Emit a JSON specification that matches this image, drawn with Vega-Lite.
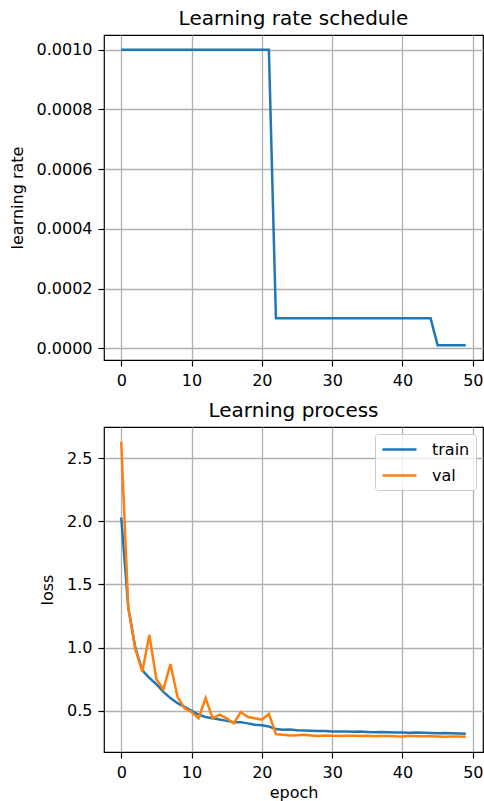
{
  "$schema": "https://vega.github.io/schema/vega-lite/v6.json",
  "background": "white",
  "padding": {"left": 8, "top": 8, "right": 0, "bottom": 4},
  "bounds": "flush",
  "spacing": 67,
  "resolve": {"legend": {"color": "independent"}, "scale": {"color": "independent"}},
  "config": {
    "font": "DejaVu Sans",
    "view": {"stroke": "#000000", "strokeWidth": 1.2},
    "axis": {
      "domain": false,
      "grid": true,
      "gridColor": "#b0b0b0",
      "gridWidth": 1.3,
      "tickColor": "#000000",
      "tickSize": 6,
      "tickWidth": 1.2,
      "labelFont": "DejaVu Sans",
      "labelFontSize": 16,
      "labelColor": "#000000",
      "labelPadding": 6,
      "labelFlush": false,
      "labelOverlap": false,
      "titleFont": "DejaVu Sans",
      "titleFontSize": 16,
      "titleFontWeight": "normal",
      "titleColor": "#000000"
    },
    "axisY": {"titlePadding": 11},
    "axisX": {"titlePadding": 4},
    "title": {"font": "DejaVu Sans", "fontSize": 20, "fontWeight": "normal", "color": "#000000", "offset": 6},
    "legend": {
      "symbolType": "M-1,0H3.25",
      "symbolSize": 256,
      "symbolStrokeWidth": 2.5,
      "labelFont": "DejaVu Sans",
      "labelFontSize": 16,
      "labelColor": "#000000",
      "labelOffset": 32,
      "padding": 6,
      "rowPadding": 8,
      "offset": 7,
      "strokeColor": "#cccccc",
      "fillColor": "rgba(255,255,255,0.8)",
      "cornerRadius": 3
    }
  },
  "datasets": {
    "lr": [
      {"epoch": 0, "lr": 0.001}, {"epoch": 1, "lr": 0.001}, {"epoch": 2, "lr": 0.001}, {"epoch": 3, "lr": 0.001},
      {"epoch": 4, "lr": 0.001}, {"epoch": 5, "lr": 0.001}, {"epoch": 6, "lr": 0.001}, {"epoch": 7, "lr": 0.001},
      {"epoch": 8, "lr": 0.001}, {"epoch": 9, "lr": 0.001}, {"epoch": 10, "lr": 0.001}, {"epoch": 11, "lr": 0.001},
      {"epoch": 12, "lr": 0.001}, {"epoch": 13, "lr": 0.001}, {"epoch": 14, "lr": 0.001}, {"epoch": 15, "lr": 0.001},
      {"epoch": 16, "lr": 0.001}, {"epoch": 17, "lr": 0.001}, {"epoch": 18, "lr": 0.001}, {"epoch": 19, "lr": 0.001},
      {"epoch": 20, "lr": 0.001}, {"epoch": 21, "lr": 0.001}, {"epoch": 22, "lr": 0.0001}, {"epoch": 23, "lr": 0.0001},
      {"epoch": 24, "lr": 0.0001}, {"epoch": 25, "lr": 0.0001}, {"epoch": 26, "lr": 0.0001}, {"epoch": 27, "lr": 0.0001},
      {"epoch": 28, "lr": 0.0001}, {"epoch": 29, "lr": 0.0001}, {"epoch": 30, "lr": 0.0001}, {"epoch": 31, "lr": 0.0001},
      {"epoch": 32, "lr": 0.0001}, {"epoch": 33, "lr": 0.0001}, {"epoch": 34, "lr": 0.0001}, {"epoch": 35, "lr": 0.0001},
      {"epoch": 36, "lr": 0.0001}, {"epoch": 37, "lr": 0.0001}, {"epoch": 38, "lr": 0.0001}, {"epoch": 39, "lr": 0.0001},
      {"epoch": 40, "lr": 0.0001}, {"epoch": 41, "lr": 0.0001}, {"epoch": 42, "lr": 0.0001}, {"epoch": 43, "lr": 0.0001},
      {"epoch": 44, "lr": 0.0001}, {"epoch": 45, "lr": 0.00001}, {"epoch": 46, "lr": 0.00001}, {"epoch": 47, "lr": 0.00001},
      {"epoch": 48, "lr": 0.00001}, {"epoch": 49, "lr": 0.00001}
    ],
    "loss": [
      {"epoch": 0, "split": "train", "loss": 2.03}, {"epoch": 1, "split": "train", "loss": 1.32},
      {"epoch": 2, "split": "train", "loss": 1.0}, {"epoch": 3, "split": "train", "loss": 0.82},
      {"epoch": 4, "split": "train", "loss": 0.76}, {"epoch": 5, "split": "train", "loss": 0.71},
      {"epoch": 6, "split": "train", "loss": 0.65}, {"epoch": 7, "split": "train", "loss": 0.6},
      {"epoch": 8, "split": "train", "loss": 0.56}, {"epoch": 9, "split": "train", "loss": 0.53},
      {"epoch": 10, "split": "train", "loss": 0.5}, {"epoch": 11, "split": "train", "loss": 0.47},
      {"epoch": 12, "split": "train", "loss": 0.45}, {"epoch": 13, "split": "train", "loss": 0.44},
      {"epoch": 14, "split": "train", "loss": 0.43}, {"epoch": 15, "split": "train", "loss": 0.42},
      {"epoch": 16, "split": "train", "loss": 0.41}, {"epoch": 17, "split": "train", "loss": 0.41},
      {"epoch": 18, "split": "train", "loss": 0.4}, {"epoch": 19, "split": "train", "loss": 0.39},
      {"epoch": 20, "split": "train", "loss": 0.385}, {"epoch": 21, "split": "train", "loss": 0.375},
      {"epoch": 22, "split": "train", "loss": 0.355}, {"epoch": 23, "split": "train", "loss": 0.35},
      {"epoch": 24, "split": "train", "loss": 0.352}, {"epoch": 25, "split": "train", "loss": 0.346},
      {"epoch": 26, "split": "train", "loss": 0.344}, {"epoch": 27, "split": "train", "loss": 0.342},
      {"epoch": 28, "split": "train", "loss": 0.34}, {"epoch": 29, "split": "train", "loss": 0.339},
      {"epoch": 30, "split": "train", "loss": 0.336}, {"epoch": 31, "split": "train", "loss": 0.335},
      {"epoch": 32, "split": "train", "loss": 0.336}, {"epoch": 33, "split": "train", "loss": 0.334},
      {"epoch": 34, "split": "train", "loss": 0.335}, {"epoch": 35, "split": "train", "loss": 0.332},
      {"epoch": 36, "split": "train", "loss": 0.33}, {"epoch": 37, "split": "train", "loss": 0.331},
      {"epoch": 38, "split": "train", "loss": 0.329}, {"epoch": 39, "split": "train", "loss": 0.328},
      {"epoch": 40, "split": "train", "loss": 0.328}, {"epoch": 41, "split": "train", "loss": 0.326},
      {"epoch": 42, "split": "train", "loss": 0.327}, {"epoch": 43, "split": "train", "loss": 0.325},
      {"epoch": 44, "split": "train", "loss": 0.324}, {"epoch": 45, "split": "train", "loss": 0.321},
      {"epoch": 46, "split": "train", "loss": 0.323}, {"epoch": 47, "split": "train", "loss": 0.321},
      {"epoch": 48, "split": "train", "loss": 0.319}, {"epoch": 49, "split": "train", "loss": 0.317},
      {"epoch": 0, "split": "val", "loss": 2.63}, {"epoch": 1, "split": "val", "loss": 1.32},
      {"epoch": 2, "split": "val", "loss": 0.99}, {"epoch": 3, "split": "val", "loss": 0.81},
      {"epoch": 4, "split": "val", "loss": 1.1}, {"epoch": 5, "split": "val", "loss": 0.75},
      {"epoch": 6, "split": "val", "loss": 0.67}, {"epoch": 7, "split": "val", "loss": 0.87},
      {"epoch": 8, "split": "val", "loss": 0.61}, {"epoch": 9, "split": "val", "loss": 0.52},
      {"epoch": 10, "split": "val", "loss": 0.49}, {"epoch": 11, "split": "val", "loss": 0.44},
      {"epoch": 12, "split": "val", "loss": 0.6}, {"epoch": 13, "split": "val", "loss": 0.44},
      {"epoch": 14, "split": "val", "loss": 0.47}, {"epoch": 15, "split": "val", "loss": 0.44},
      {"epoch": 16, "split": "val", "loss": 0.4}, {"epoch": 17, "split": "val", "loss": 0.49},
      {"epoch": 18, "split": "val", "loss": 0.45}, {"epoch": 19, "split": "val", "loss": 0.44},
      {"epoch": 20, "split": "val", "loss": 0.43}, {"epoch": 21, "split": "val", "loss": 0.475},
      {"epoch": 22, "split": "val", "loss": 0.315}, {"epoch": 23, "split": "val", "loss": 0.31},
      {"epoch": 24, "split": "val", "loss": 0.305}, {"epoch": 25, "split": "val", "loss": 0.307},
      {"epoch": 26, "split": "val", "loss": 0.31}, {"epoch": 27, "split": "val", "loss": 0.305},
      {"epoch": 28, "split": "val", "loss": 0.3}, {"epoch": 29, "split": "val", "loss": 0.305},
      {"epoch": 30, "split": "val", "loss": 0.303}, {"epoch": 31, "split": "val", "loss": 0.3},
      {"epoch": 32, "split": "val", "loss": 0.302}, {"epoch": 33, "split": "val", "loss": 0.302},
      {"epoch": 34, "split": "val", "loss": 0.3}, {"epoch": 35, "split": "val", "loss": 0.302},
      {"epoch": 36, "split": "val", "loss": 0.298}, {"epoch": 37, "split": "val", "loss": 0.3},
      {"epoch": 38, "split": "val", "loss": 0.301}, {"epoch": 39, "split": "val", "loss": 0.298},
      {"epoch": 40, "split": "val", "loss": 0.297}, {"epoch": 41, "split": "val", "loss": 0.302},
      {"epoch": 42, "split": "val", "loss": 0.299}, {"epoch": 43, "split": "val", "loss": 0.298},
      {"epoch": 44, "split": "val", "loss": 0.298}, {"epoch": 45, "split": "val", "loss": 0.297},
      {"epoch": 46, "split": "val", "loss": 0.295}, {"epoch": 47, "split": "val", "loss": 0.296},
      {"epoch": 48, "split": "val", "loss": 0.296}, {"epoch": 49, "split": "val", "loss": 0.295}
    ]
  },
  "vconcat": [
    {
      "title": "Learning rate schedule",
      "width": 379,
      "height": 325,
      "data": {"name": "lr"},
      "mark": {"type": "line", "color": "#1f77b4", "strokeWidth": 2.5},
      "encoding": {
        "x": {
          "field": "epoch",
          "type": "quantitative",
          "scale": {"domain": [-2.45, 51.45], "nice": false, "zero": false},
          "axis": {"values": [0, 10, 20, 30, 40, 50], "format": "d", "title": null}
        },
        "y": {
          "field": "lr",
          "type": "quantitative",
          "scale": {"domain": [-0.0000395, 0.0010495], "nice": false, "zero": false},
          "axis": {"values": [0, 0.0002, 0.0004, 0.0006, 0.0008, 0.001], "format": ".4f", "title": "learning rate"}
        }
      }
    },
    {
      "title": "Learning process",
      "width": 379,
      "height": 325,
      "data": {"name": "loss"},
      "mark": {"type": "line", "strokeWidth": 2.5},
      "encoding": {
        "x": {
          "field": "epoch",
          "type": "quantitative",
          "scale": {"domain": [-2.45, 51.45], "nice": false, "zero": false},
          "axis": {"values": [0, 10, 20, 30, 40, 50], "format": "d", "title": "epoch"}
        },
        "y": {
          "field": "loss",
          "type": "quantitative",
          "scale": {"domain": [0.1735, 2.7465], "nice": false, "zero": false},
          "axis": {"values": [0.5, 1, 1.5, 2, 2.5], "format": ".1f", "title": "loss"}
        },
        "color": {
          "field": "split",
          "type": "nominal",
          "scale": {"domain": ["train", "val"], "range": ["#1f77b4", "#ff7f0e"]},
          "legend": {"title": null, "orient": "top-right"}
        }
      }
    }
  ]
}
